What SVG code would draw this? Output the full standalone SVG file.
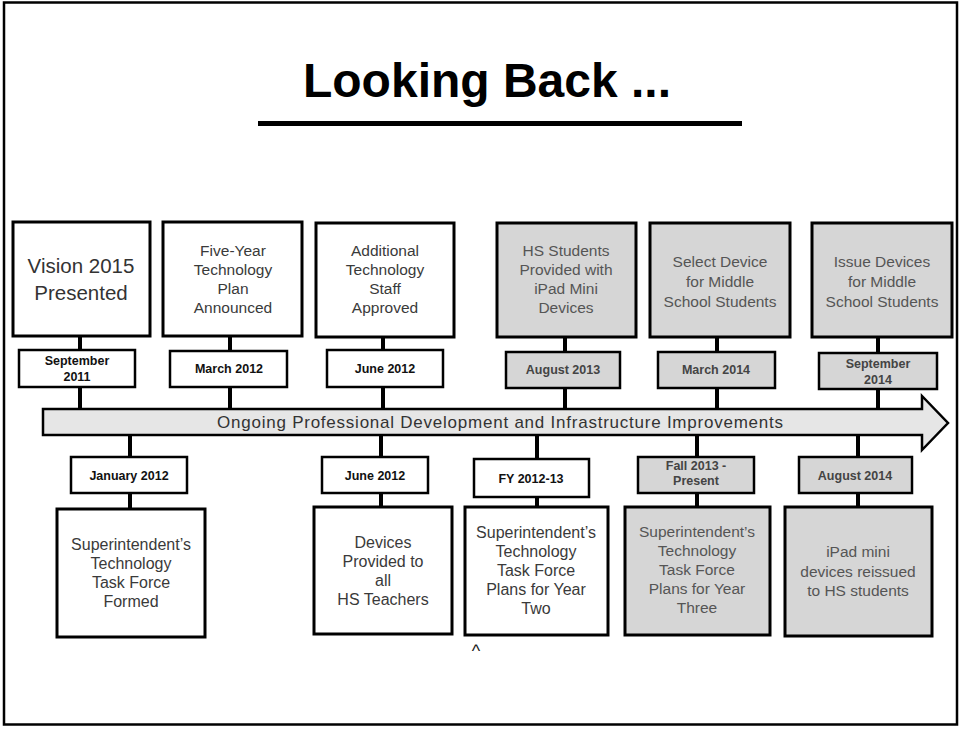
<svg xmlns="http://www.w3.org/2000/svg" width="962" height="729" viewBox="0 0 962 729">
<style>
text{font-family:"Liberation Sans",Arial,sans-serif;text-anchor:middle;}
.box{fill:#ffffff;stroke:#000;stroke-width:3;}
.gbox{fill:#d6d6d6;stroke:#000;stroke-width:3;}
.date{fill:#ffffff;stroke:#000;stroke-width:2.5;}
.gdate{fill:#d6d6d6;stroke:#000;stroke-width:2.5;}
.t{font-size:15.5px;fill:#3a3a3a;}
.tb{font-size:16px;fill:#3a3a3a;}
.d{font-size:12.5px;font-weight:bold;fill:#111;}
.gt{font-size:15.5px;fill:#555;}
.gd{font-size:12.5px;font-weight:bold;fill:#444;}
.conn line{stroke:#000;stroke-width:4;}
</style>
<rect x="0" y="0" width="962" height="729" fill="#ffffff"/>
<rect x="4" y="2.5" width="953" height="722" fill="none" stroke="#000" stroke-width="2.5"/>
<g id="title">
<text x="487" y="97" style="font-size:48px;font-weight:bold;fill:#000">Looking Back ...</text>
<rect x="258" y="121" width="484" height="5" fill="#000"/>
</g>
<g class="conn" id="connectors">
<line x1="80" y1="336" x2="80" y2="350"/>
<line x1="80" y1="387" x2="80" y2="409"/>
<line x1="230" y1="336" x2="230" y2="351"/>
<line x1="230" y1="387" x2="230" y2="409"/>
<line x1="383" y1="337" x2="383" y2="350"/>
<line x1="383" y1="387" x2="383" y2="409"/>
<line x1="565" y1="337" x2="565" y2="352"/>
<line x1="565" y1="388" x2="565" y2="409"/>
<line x1="717" y1="337" x2="717" y2="352"/>
<line x1="717" y1="388" x2="717" y2="409"/>
<line x1="878" y1="337" x2="878" y2="353"/>
<line x1="878" y1="389" x2="878" y2="409"/>
<line x1="130" y1="435" x2="130" y2="457"/>
<line x1="130" y1="493" x2="130" y2="509"/>
<line x1="381" y1="435" x2="381" y2="457"/>
<line x1="381" y1="493" x2="381" y2="507"/>
<line x1="537" y1="435" x2="537" y2="459"/>
<line x1="537" y1="497" x2="537" y2="507"/>
<line x1="697" y1="435" x2="697" y2="457"/>
<line x1="697" y1="493" x2="697" y2="507"/>
<line x1="858" y1="435" x2="858" y2="457"/>
<line x1="858" y1="493" x2="858" y2="507"/>
</g>
<g id="timeline-arrow">
<path d="M43,409 L922,409 L922,396 L948,423 L922,450 L922,435 L43,435 Z" fill="#e6e6e6" stroke="#000" stroke-width="2.5" stroke-linejoin="miter"/>
<text x="500" y="428" textLength="566" style="font-size:17px;fill:#333">Ongoing Professional Development and Infrastructure Improvements</text>
</g>
<g id="n-vision">
<rect class="box" x="13" y="222" width="137" height="114"/>
<text x="81" y="273" style="font-size:20.5px;fill:#333">Vision 2015</text>
<text x="81" y="300" style="font-size:20.5px;fill:#333">Presented</text>
</g>
<g id="d-sep2011">
<rect class="date" x="19" y="350" width="116" height="37"/>
<text class="d" x="77" y="365">September</text>
<text class="d" x="77" y="381">2011</text>
</g>
<g id="n-fiveyear">
<rect class="box" x="163" y="222" width="139" height="114"/>
<text class="t" x="233" y="256">Five-Year</text>
<text class="t" x="233" y="275">Technology</text>
<text class="t" x="233" y="294">Plan</text>
<text class="t" x="233" y="313">Announced</text>
</g>
<g id="d-mar2012">
<rect class="date" x="170" y="351" width="117" height="36"/>
<text class="d" x="229" y="373">March 2012</text>
</g>
<g id="n-staff">
<rect class="box" x="316" y="223" width="138" height="114"/>
<text class="t" x="385" y="256">Additional</text>
<text class="t" x="385" y="275">Technology</text>
<text class="t" x="385" y="294">Staff</text>
<text class="t" x="385" y="313">Approved</text>
</g>
<g id="d-jun2012a">
<rect class="date" x="327" y="350" width="116" height="37"/>
<text class="d" x="385" y="373">June 2012</text>
</g>
<g id="n-hsstudents">
<rect class="gbox" x="497" y="223" width="139" height="114"/>
<text class="gt" x="566" y="256">HS Students</text>
<text class="gt" x="566" y="275">Provided with</text>
<text class="gt" x="566" y="294">iPad Mini</text>
<text class="gt" x="566" y="313">Devices</text>
</g>
<g id="d-aug2013">
<rect class="gdate" x="506" y="352" width="114" height="36"/>
<text class="gd" x="563" y="374">August 2013</text>
</g>
<g id="n-select">
<rect class="gbox" x="650" y="223" width="140" height="114"/>
<text class="gt" x="720" y="267">Select Device</text>
<text class="gt" x="720" y="287">for Middle</text>
<text class="gt" x="720" y="307">School Students</text>
</g>
<g id="d-mar2014">
<rect class="gdate" x="658" y="352" width="117" height="36"/>
<text class="gd" x="716" y="374">March 2014</text>
</g>
<g id="n-issue">
<rect class="gbox" x="812" y="223" width="140" height="114"/>
<text class="gt" x="882" y="267">Issue Devices</text>
<text class="gt" x="882" y="287">for Middle</text>
<text class="gt" x="882" y="307">School Students</text>
</g>
<g id="d-sep2014">
<rect class="gdate" x="819" y="353" width="118" height="36"/>
<text class="gd" x="878" y="368">September</text>
<text class="gd" x="878" y="384">2014</text>
</g>
<g id="d-jan2012">
<rect class="date" x="71" y="457" width="116" height="36"/>
<text class="d" x="129" y="480">January 2012</text>
</g>
<g id="n-taskforce">
<rect class="box" x="57" y="509" width="148" height="128"/>
<text class="tb" x="131" y="550">Superintendent’s</text>
<text class="tb" x="131" y="569">Technology</text>
<text class="tb" x="131" y="588">Task Force</text>
<text class="tb" x="131" y="607">Formed</text>
</g>
<g id="d-jun2012b">
<rect class="date" x="322" y="457" width="106" height="36"/>
<text class="d" x="375" y="480">June 2012</text>
</g>
<g id="n-devices">
<rect class="box" x="314" y="507" width="138" height="127"/>
<text class="tb" x="383" y="548">Devices</text>
<text class="tb" x="383" y="567">Provided to</text>
<text class="tb" x="383" y="586">all</text>
<text class="tb" x="383" y="605">HS Teachers</text>
</g>
<g id="d-fy2012">
<rect class="date" x="474" y="459" width="115" height="38"/>
<text class="d" x="531" y="483">FY 2012-13</text>
</g>
<g id="n-yeartwo">
<rect class="box" x="465" y="507" width="143" height="128"/>
<text class="tb" x="536" y="538">Superintendent’s</text>
<text class="tb" x="536" y="557">Technology</text>
<text class="tb" x="536" y="576">Task Force</text>
<text class="tb" x="536" y="595">Plans for Year</text>
<text class="tb" x="536" y="614">Two</text>
</g>
<g id="d-fall2013">
<rect class="gdate" x="638" y="457" width="116" height="36"/>
<text class="gd" x="696" y="470">Fall 2013 -</text>
<text class="gd" x="696" y="485">Present</text>
</g>
<g id="n-yearthree">
<rect class="gbox" x="625" y="507" width="145" height="128"/>
<text class="gt" x="697" y="537">Superintendent’s</text>
<text class="gt" x="697" y="556">Technology</text>
<text class="gt" x="697" y="575">Task Force</text>
<text class="gt" x="697" y="594">Plans for Year</text>
<text class="gt" x="697" y="613">Three</text>
</g>
<g id="d-aug2014">
<rect class="gdate" x="799" y="457" width="113" height="36"/>
<text class="gd" x="855" y="480">August 2014</text>
</g>
<g id="n-reissued">
<rect class="gbox" x="785" y="507" width="147" height="129"/>
<text class="gt" x="858" y="557">iPad mini</text>
<text class="gt" x="858" y="577">devices reissued</text>
<text class="gt" x="858" y="596">to HS students</text>
</g>
<text x="476" y="657" style="font-size:18px;fill:#222">^</text>
</svg>
